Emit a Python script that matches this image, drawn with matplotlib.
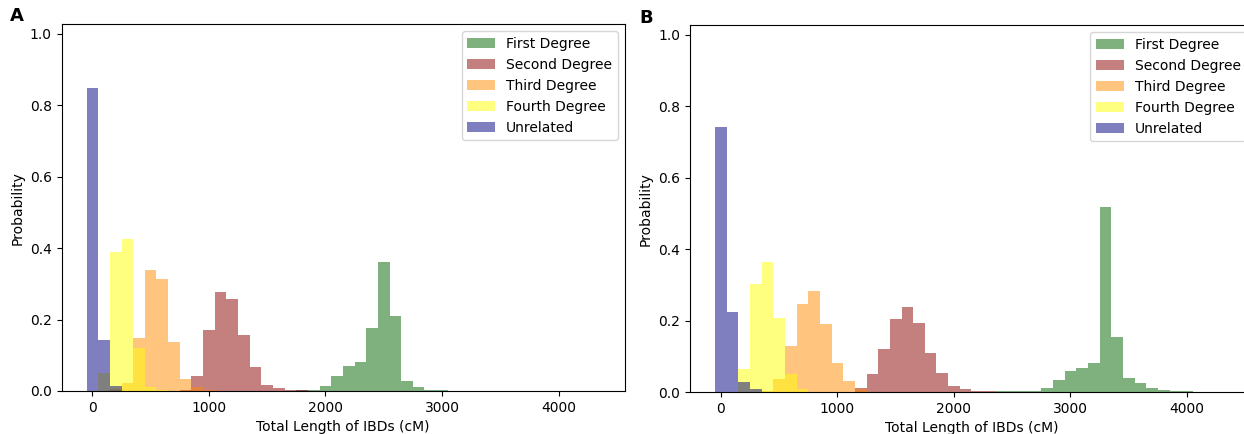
import numpy as np
import matplotlib
matplotlib.use("Agg")
import matplotlib.pyplot as plt

# Common histogram bins (100 cM wide), centers 0 .. 4300
bin_edges = list(range(-50, 4400, 100))
bin_centers = [e + 50 for e in bin_edges[:-1]]

series_names = ["First Degree", "Second Degree", "Third Degree", "Fourth Degree", "Unrelated"]
series_colors = ["darkgreen", "darkred", "darkorange", "yellow", "navy"]

# Probabilities per bin, given as {bin center: probability}
A_first = {1700: 0.001, 1800: 0.002, 1900: 0.004, 2000: 0.014, 2100: 0.042, 2200: 0.071,
           2300: 0.082, 2400: 0.177, 2500: 0.361, 2600: 0.210, 2700: 0.029, 2800: 0.011,
           2900: 0.003, 3000: 0.002}
A_second = {800: 0.002, 900: 0.043, 1000: 0.172, 1100: 0.276, 1200: 0.257, 1300: 0.156,
            1400: 0.068, 1500: 0.018, 1600: 0.008, 1700: 0.004, 1800: 0.003}
A_third = {200: 0.005, 300: 0.022, 400: 0.149, 500: 0.339, 600: 0.313, 700: 0.136,
           800: 0.034, 900: 0.010, 1000: 0.003}
A_fourth = {100: 0.049, 200: 0.389, 300: 0.424, 400: 0.120, 500: 0.012, 600: 0.003}
A_unrelated = {0: 0.849, 100: 0.142, 200: 0.013}

B_first = {2000: 0.001, 2100: 0.001, 2200: 0.001, 2300: 0.001, 2400: 0.002, 2500: 0.002,
           2600: 0.002, 2700: 0.002, 2800: 0.012, 2900: 0.034, 3000: 0.060, 3100: 0.068,
           3200: 0.080, 3300: 0.518, 3400: 0.155, 3500: 0.040, 3600: 0.024, 3700: 0.010,
           3800: 0.006, 3900: 0.003, 4000: 0.002}
B_second = {1200: 0.012, 1300: 0.049, 1400: 0.119, 1500: 0.203, 1600: 0.237, 1700: 0.194,
            1800: 0.110, 1900: 0.052, 2000: 0.018, 2100: 0.008, 2200: 0.003, 2300: 0.002}
B_third = {400: 0.003, 500: 0.036, 600: 0.128, 700: 0.246, 800: 0.282, 900: 0.190,
           1000: 0.080, 1100: 0.032, 1200: 0.008}
B_fourth = {200: 0.065, 300: 0.302, 400: 0.364, 500: 0.207, 600: 0.051, 700: 0.008}
B_unrelated = {0: 0.742, 100: 0.223, 200: 0.029, 300: 0.008}

panels = [
    ("A", [A_first, A_second, A_third, A_fourth, A_unrelated]),
    ("B", [B_first, B_second, B_third, B_fourth, B_unrelated]),
]

W, H = 1244, 434
fig = plt.figure(figsize=(W / 100, H / 100), dpi=100)

# axes rectangles in pixels: (left, top, right, bottom)
rects = [(61.5, 24.3, 624.7, 391.0), (690.0, 25.3, 1253.2, 392.0)]
label_pos = [(10, 16), (639, 18)]

for (label, data), (l, t, r, b), (lx, ly) in zip(panels, rects, label_pos):
    ax = fig.add_axes([l / W, 1 - b / H, (r - l) / W, (b - t) / H])
    for name, color, d in zip(series_names, series_colors, data):
        weights = [d.get(c, 0.0) for c in bin_centers]
        ax.hist(bin_centers, bins=bin_edges, weights=weights, color=color,
                alpha=0.5, label=name)
    ax.set_xlim(-265, 4568)
    ax.set_ylim(0, 1.026)
    ax.set_xticks([0, 1000, 2000, 3000, 4000])
    ax.set_yticks([0.0, 0.2, 0.4, 0.6, 0.8, 1.0])
    ax.set_xlabel("Total Length of IBDs (cM)")
    ax.set_ylabel("Probability")
    ax.legend(loc="upper right")
    fig.text(lx / W, 1 - ly / H, label, fontsize=13, fontweight="bold",
             ha="left", va="center")

fig.savefig("out.png", dpi=100)
